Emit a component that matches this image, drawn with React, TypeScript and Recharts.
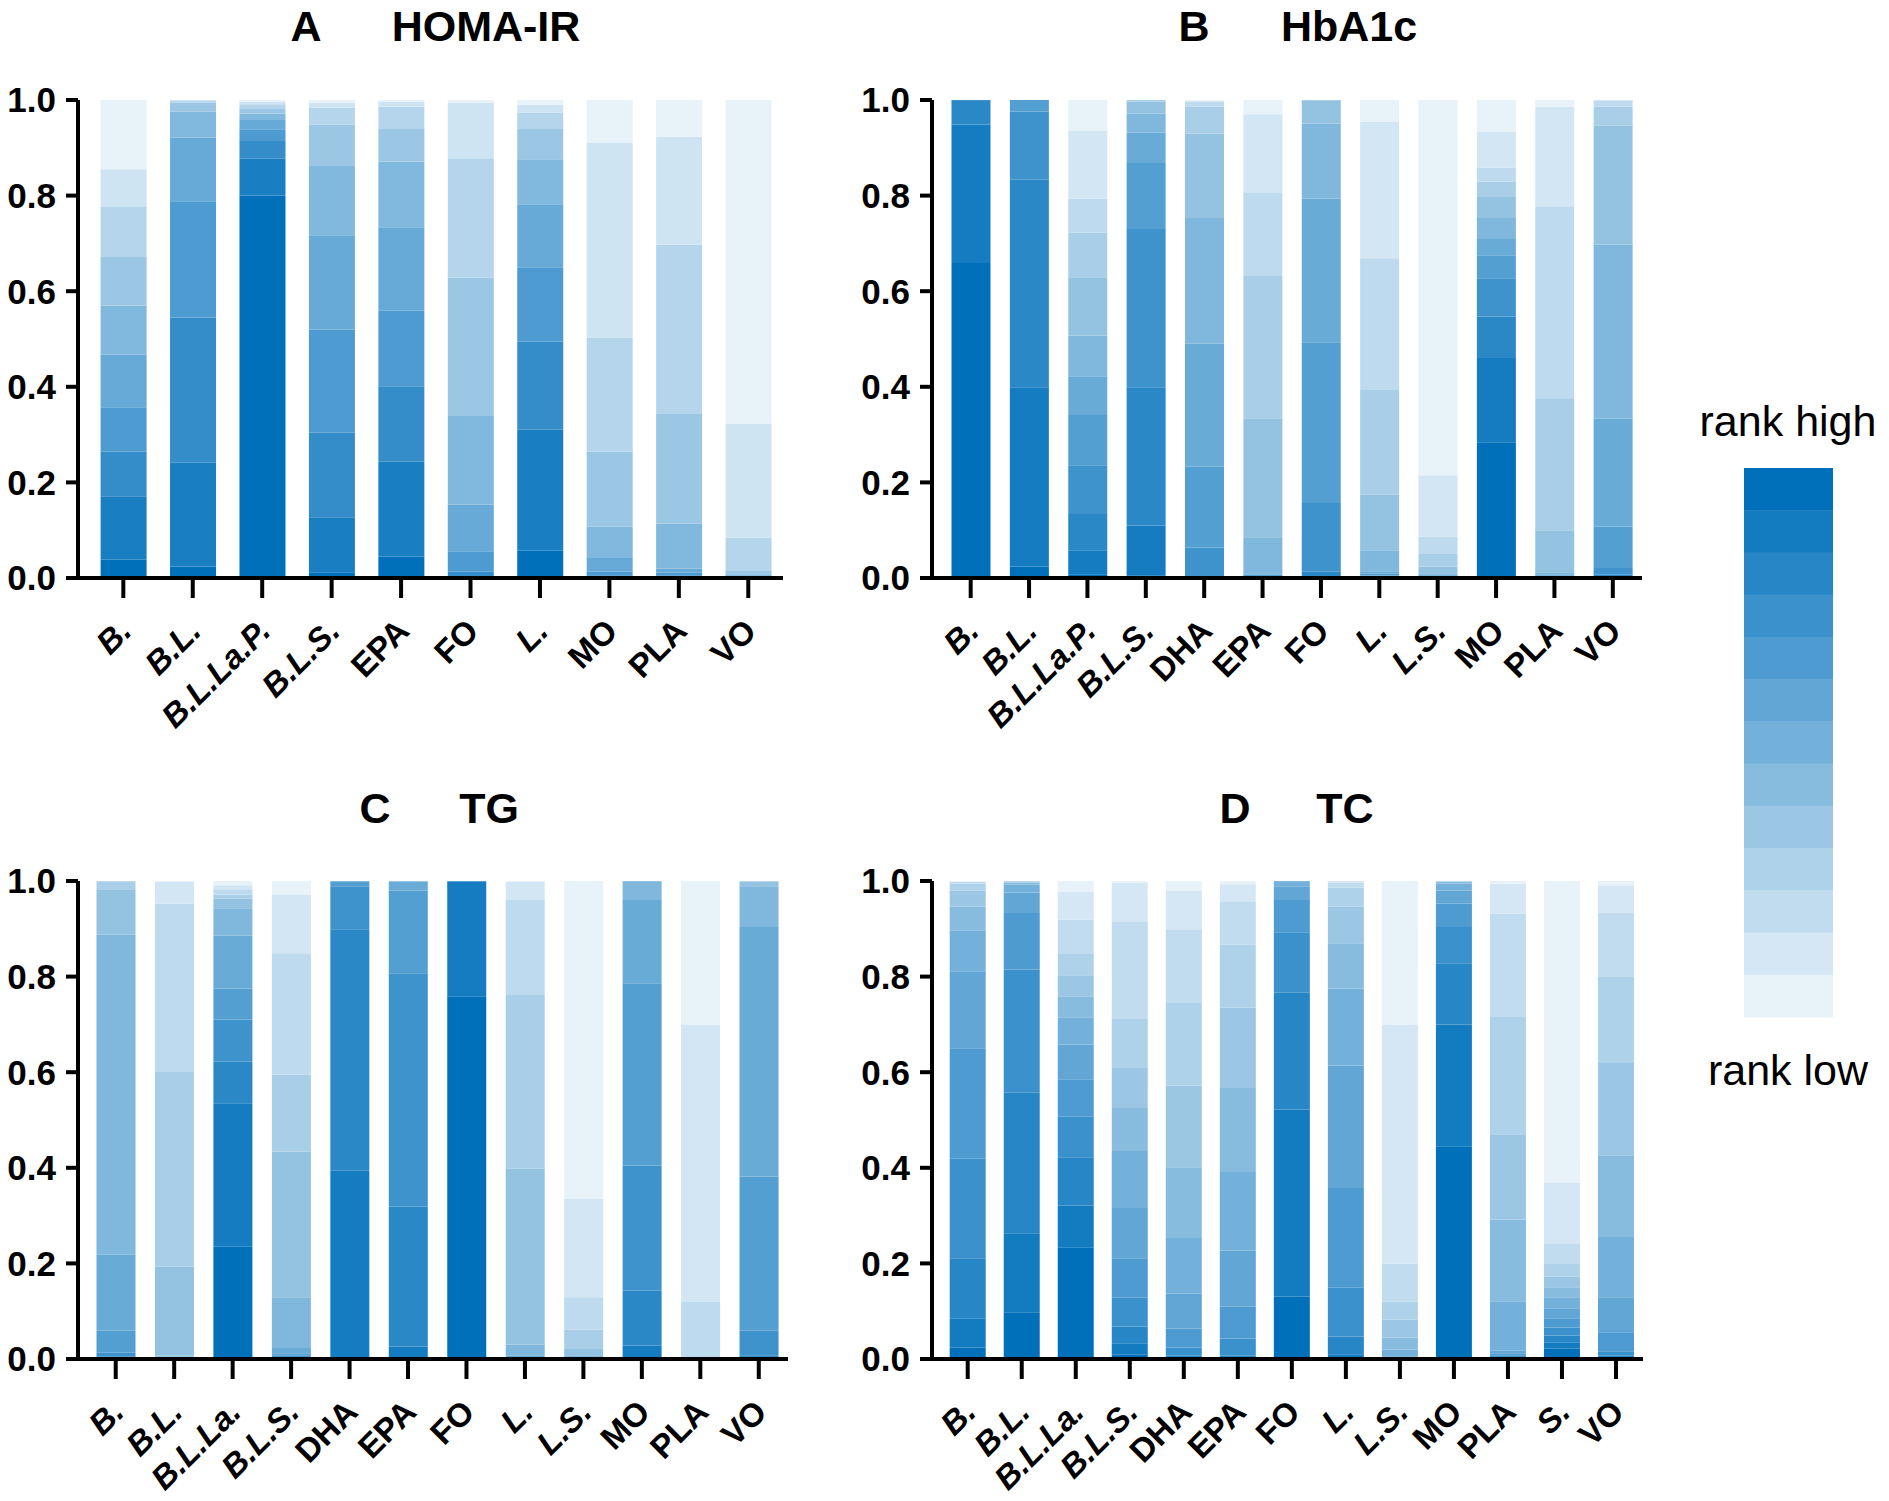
import React from 'react';
import { BarChart, Bar, XAxis, YAxis } from 'recharts';

const FONT = '"Liberation Sans", Arial, Helvetica, sans-serif';

// treatments per outcome
const homaCats = ['B.', 'B.L.', 'B.L.La.P.', 'B.L.S.', 'EPA', 'FO', 'L.', 'MO', 'PLA', 'VO'];
const hba1cCats = ['B.', 'B.L.', 'B.L.La.P.', 'B.L.S.', 'DHA', 'EPA', 'FO', 'L.', 'L.S.', 'MO', 'PLA', 'VO'];
const tgCats = ['B.', 'B.L.', 'B.L.La.', 'B.L.S.', 'DHA', 'EPA', 'FO', 'L.', 'L.S.', 'MO', 'PLA', 'VO'];
const tcCats = ['B.', 'B.L.', 'B.L.La.', 'B.L.S.', 'DHA', 'EPA', 'FO', 'L.', 'L.S.', 'MO', 'PLA', 'S.', 'VO'];

// rank probabilities, one row per treatment, rank 1 (best) first
const homaProbs = [
  [0.038, 0.133, 0.093, 0.093, 0.110, 0.103, 0.103, 0.103, 0.079, 0.145],
  [0.024, 0.217, 0.304, 0.243, 0.133, 0.055, 0.018, 0.004, 0.002, 0.000],
  [0.800, 0.077, 0.037, 0.025, 0.019, 0.014, 0.011, 0.008, 0.005, 0.004],
  [0.012, 0.115, 0.177, 0.216, 0.197, 0.145, 0.086, 0.036, 0.010, 0.006],
  [0.045, 0.198, 0.158, 0.158, 0.175, 0.137, 0.070, 0.045, 0.011, 0.003],
  [0.001, 0.003, 0.009, 0.043, 0.098, 0.185, 0.289, 0.250, 0.116, 0.006],
  [0.057, 0.253, 0.184, 0.156, 0.132, 0.094, 0.065, 0.033, 0.016, 0.010],
  [0.001, 0.002, 0.003, 0.007, 0.029, 0.066, 0.156, 0.239, 0.407, 0.090],
  [0.001, 0.002, 0.003, 0.005, 0.009, 0.094, 0.229, 0.354, 0.226, 0.077],
  [0.001, 0.001, 0.001, 0.002, 0.002, 0.003, 0.006, 0.068, 0.239, 0.677],
];

const hba1cProbs = [
  [0.659, 0.290, 0.049, 0.002, 0, 0, 0, 0, 0, 0, 0, 0],
  [0.024, 0.375, 0.434, 0.143, 0.024, 0, 0, 0, 0, 0, 0, 0],
  [0.008, 0.050, 0.076, 0.102, 0.105, 0.081, 0.085, 0.122, 0.094, 0.071, 0.142, 0.064],
  [0.006, 0.104, 0.289, 0.331, 0.138, 0.064, 0.040, 0.025, 0.003, 0, 0, 0],
  [0.001, 0.001, 0.001, 0.061, 0.169, 0.257, 0.263, 0.177, 0.056, 0.011, 0.002, 0.001],
  [0.000, 0.001, 0.001, 0.002, 0.003, 0.003, 0.075, 0.249, 0.298, 0.175, 0.163, 0.030],
  [0.001, 0.002, 0.010, 0.144, 0.336, 0.301, 0.157, 0.047, 0.002, 0, 0, 0],
  [0.001, 0.001, 0.001, 0.002, 0.004, 0.005, 0.044, 0.116, 0.221, 0.274, 0.286, 0.045],
  [0.001, 0.001, 0.001, 0.001, 0.002, 0.002, 0.002, 0.014, 0.026, 0.037, 0.128, 0.785],
  [0.284, 0.176, 0.087, 0.080, 0.048, 0.034, 0.044, 0.044, 0.032, 0.030, 0.075, 0.066],
  [0.001, 0.001, 0.001, 0.001, 0.002, 0.002, 0.004, 0.088, 0.276, 0.400, 0.210, 0.014],
  [0.001, 0.002, 0.004, 0.014, 0.087, 0.225, 0.364, 0.249, 0.040, 0.012, 0.002, 0],
];

const tgProbs = [
  [0.001, 0.002, 0.003, 0.007, 0.046, 0.159, 0.670, 0.095, 0.015, 0.002, 0, 0],
  [0, 0, 0.001, 0.001, 0.001, 0.002, 0.002, 0.186, 0.409, 0.351, 0.046, 0.001],
  [0.235, 0.300, 0.087, 0.088, 0.065, 0.111, 0.057, 0.020, 0.009, 0.011, 0.008, 0.009],
  [0.001, 0.001, 0.002, 0.003, 0.005, 0.011, 0.106, 0.305, 0.161, 0.254, 0.123, 0.028],
  [0.001, 0.393, 0.505, 0.090, 0.010, 0.001, 0, 0, 0, 0, 0, 0],
  [0.001, 0.025, 0.293, 0.488, 0.173, 0.019, 0.001, 0, 0, 0, 0, 0],
  [0.759, 0.240, 0.001, 0, 0, 0, 0, 0, 0, 0, 0, 0],
  [0, 0, 0.001, 0.001, 0.002, 0.004, 0.022, 0.368, 0.365, 0.197, 0.039, 0.001],
  [0, 0, 0, 0.001, 0.001, 0.002, 0.004, 0.013, 0.040, 0.068, 0.206, 0.665],
  [0.002, 0.026, 0.115, 0.262, 0.381, 0.174, 0.038, 0.002, 0, 0, 0, 0],
  [0, 0, 0, 0, 0.001, 0.001, 0.001, 0.002, 0.003, 0.111, 0.581, 0.300],
  [0.001, 0.002, 0.005, 0.051, 0.323, 0.522, 0.085, 0.010, 0.001, 0, 0, 0],
];

const tcProbs = [
  [0.024, 0.061, 0.126, 0.208, 0.231, 0.161, 0.086, 0.049, 0.034, 0.014, 0.004, 0.001, 0.001],
  [0.098, 0.165, 0.294, 0.258, 0.118, 0.043, 0.016, 0.005, 0.002, 0.001, 0, 0, 0],
  [0.234, 0.087, 0.101, 0.085, 0.078, 0.073, 0.057, 0.044, 0.044, 0.046, 0.070, 0.058, 0.023],
  [0.009, 0.024, 0.035, 0.060, 0.083, 0.105, 0.119, 0.090, 0.084, 0.104, 0.203, 0.080, 0.004],
  [0.001, 0.002, 0.004, 0.017, 0.040, 0.073, 0.116, 0.148, 0.171, 0.173, 0.154, 0.081, 0.020],
  [0.001, 0.002, 0.004, 0.036, 0.067, 0.117, 0.164, 0.176, 0.168, 0.132, 0.089, 0.037, 0.007],
  [0.131, 0.391, 0.244, 0.127, 0.067, 0.029, 0.009, 0.002, 0, 0, 0, 0, 0],
  [0.001, 0.009, 0.037, 0.102, 0.209, 0.256, 0.161, 0.095, 0.076, 0.040, 0.011, 0.003, 0],
  [0, 0, 0.001, 0.001, 0.002, 0.002, 0.014, 0.025, 0.037, 0.038, 0.080, 0.500, 0.300],
  [0.445, 0.255, 0.128, 0.076, 0.049, 0.027, 0.014, 0.004, 0.001, 0.001, 0, 0, 0],
  [0.001, 0.001, 0.002, 0.003, 0.004, 0.006, 0.104, 0.171, 0.178, 0.247, 0.215, 0.062, 0.006],
  [0.022, 0.013, 0.014, 0.017, 0.019, 0.021, 0.023, 0.021, 0.022, 0.027, 0.043, 0.126, 0.632],
  [0.001, 0.002, 0.004, 0.009, 0.040, 0.073, 0.126, 0.171, 0.193, 0.180, 0.134, 0.058, 0.009],
];

const yTicks = [0, 0.2, 0.4, 0.6, 0.8, 1.0];
const legendSteps = 13;

const DARK = [0, 112, 187];
const LIGHT = [232, 242, 249];

const rankColor = (k: number, n: number) => {
  const t = n > 1 ? k / (n - 1) : 0;
  const c = DARK.map((d, i) => Math.round(d + (LIGHT[i] - d) * t));
  return `rgb(${c.join(',')})`;
};

const toRows = (cats: string[], probs: number[][]) =>
  cats.map((name, i) => {
    const row: Record<string, any> = { name };
    probs[i].forEach((p, k) => {
      row['r' + (k + 1)] = p;
    });
    return row;
  });

const AXIS_W = 78;
const PLOT_H = 478;
const TOP_M = 40;

// rotated category label, species abbreviations in italics
const RotTick = (props: any) => {
  const { x, y, payload } = props;
  const label = String(payload.value);
  const tx = x + 10;
  const ty = y + 33;
  return (
    <text
      x={tx}
      y={ty}
      transform={`rotate(-45 ${tx} ${ty})`}
      textAnchor="end"
      fontFamily={FONT}
      fontSize={33}
      fontWeight="bold"
      fontStyle={label.includes('.') ? 'italic' : 'normal'}
      fill="#000"
    >
      {label}
    </text>
  );
};

interface PanelProps {
  axisX: number;
  plotTop: number;
  plotW: number;
  padLeft: number;
  barSize: number;
  xAxisH: number;
  cats: string[];
  probs: number[][];
}

const RankPanel: React.FC<PanelProps> = ({ axisX, plotTop, plotW, padLeft, barSize, xAxisH, cats, probs }) => {
  const data = toRows(cats, probs);
  const n = probs[0].length;
  const width = AXIS_W + plotW + 20;
  const height = TOP_M + PLOT_H + xAxisH;
  const axisStyle = { stroke: '#000', strokeWidth: 4 };
  return (
    <div style={{ position: 'absolute', left: axisX - AXIS_W, top: plotTop - TOP_M }}>
      <BarChart width={width} height={height} data={data} margin={{ top: TOP_M, right: 20, bottom: 0, left: 0 }}>
        <XAxis
          dataKey="name"
          interval={0}
          height={xAxisH}
          padding={{ left: padLeft, right: 0 }}
          axisLine={axisStyle}
          tickLine={axisStyle}
          tickSize={20}
          tickMargin={2}
          tick={(p: any) => <RotTick {...p} />}
        />
        <YAxis
          width={AXIS_W}
          domain={[0, 1]}
          allowDataOverflow
          ticks={yTicks}
          tickFormatter={(v: number) => v.toFixed(1)}
          axisLine={axisStyle}
          tickLine={axisStyle}
          tickSize={12}
          tickMargin={10}
          tick={{ fontFamily: FONT, fontSize: 35, fontWeight: 'bold', fill: '#000' }}
        />
        {Array.from({ length: n }, (_, k) => (
          <Bar
            key={k}
            dataKey={'r' + (k + 1)}
            stackId="rank"
            fill={rankColor(k, n)}
            barSize={barSize}
            isAnimationActive={false}
          />
        ))}
      </BarChart>
    </div>
  );
};

const titles = [
  { letter: 'A', lx: 306, name: 'HOMA-IR', nx: 486, y: 41 },
  { letter: 'B', lx: 1194, name: 'HbA1c', nx: 1349, y: 41 },
  { letter: 'C', lx: 375, name: 'TG', nx: 489, y: 823 },
  { letter: 'D', lx: 1235, name: 'TC', nx: 1345, y: 823 },
];

const App: React.FC = () => {
  const segH = 549 / legendSteps;
  return (
    <div
      style={{ position: 'absolute', left: 0, top: 0, width: 1889, height: 1501, overflow: 'hidden', background: '#fff' }}
    >
      <svg width={1889} height={1501} style={{ position: 'absolute', left: 0, top: 0 }}>
        {titles.map((t) => (
          <g key={t.letter} fontFamily={FONT} fontWeight="bold" fontSize={43} fill="#000" textAnchor="middle">
            <text x={t.lx} y={t.y}>{t.letter}</text>
            <text x={t.nx} y={t.y}>{t.name}</text>
          </g>
        ))}
        <text x={1788} y={436} textAnchor="middle" fontFamily={FONT} fontSize={43} fill="#000">
          rank high
        </text>
        {Array.from({ length: legendSteps }, (_, k) => (
          <rect key={k} x={1744} y={468 + k * segH} width={89} height={segH + 0.5} fill={rankColor(k, legendSteps)} />
        ))}
        <text x={1788} y={1085} textAnchor="middle" fontFamily={FONT} fontSize={43} fill="#000">
          rank low
        </text>
      </svg>
      <RankPanel axisX={78} plotTop={100} plotW={705} padLeft={10.6} barSize={46} xAxisH={190} cats={homaCats} probs={homaProbs} />
      <RankPanel axisX={932} plotTop={100} plotW={710} padLeft={9.5} barSize={39} xAxisH={190} cats={hba1cCats} probs={hba1cProbs} />
      <RankPanel axisX={78} plotTop={881} plotW={710} padLeft={8.5} barSize={39} xAxisH={142} cats={tgCats} probs={tgProbs} />
      <RankPanel axisX={932} plotTop={881} plotW={711} padLeft={8.7} barSize={36} xAxisH={142} cats={tcCats} probs={tcProbs} />
    </div>
  );
};

export default App;
